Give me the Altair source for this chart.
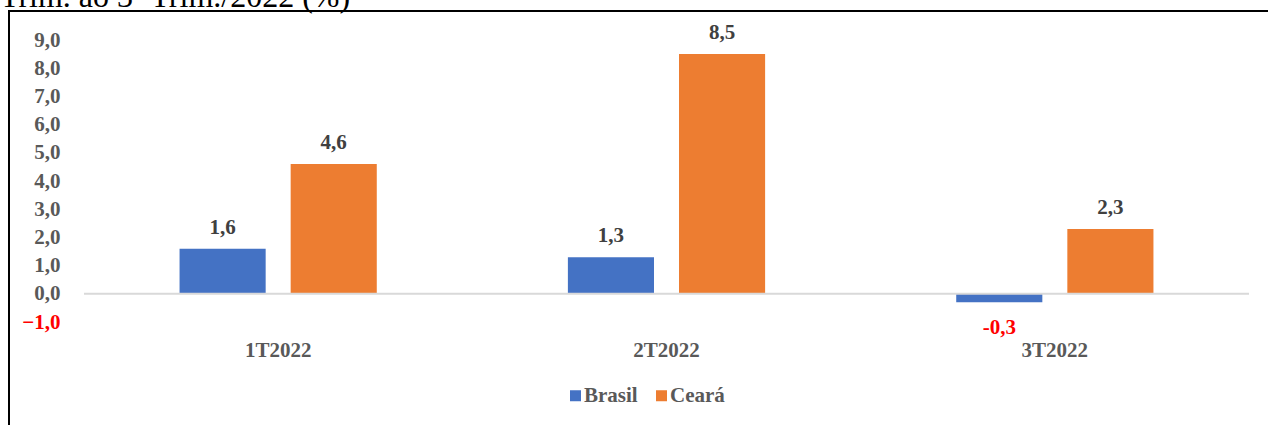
import altair as alt
import pandas as pd

# Quarterly GDP change (%), Brazil vs. Ceará
periodos = ["1T2022", "2T2022", "3T2022"]
series = ["Brasil", "Ceará"]
brasil = [1.6, 1.3, -0.3]
ceara = [4.6, 8.5, 2.3]
cores = ["#4472C4", "#ED7D31"]
titulo = "Trim. ao 3º Trim./2022 (%)"

rows = []
for p, b, c in zip(periodos, brasil, ceara):
    rows.append({"periodo": p, "serie": "Brasil", "valor": b})
    rows.append({"periodo": p, "serie": "Ceará", "valor": c})
df = pd.DataFrame(rows)
df["rotulo"] = df["valor"].map(lambda v: f"{v:.1f}".replace(".", ","))

FONT = "Liberation Serif"
FS = 21
W, H = 1165, 282
PAD = {"left": 84, "top": 40, "right": 19, "bottom": 103}

x_enc = alt.X(
    "periodo:N",
    sort=periodos,
    scale=alt.Scale(paddingInner=0, paddingOuter=0),
    axis=alt.Axis(
        title=None, domain=False, ticks=False, labelAngle=0,
        labelFont=FONT, labelFontSize=FS, labelFontWeight="bold",
        labelColor="#595959", labelPadding=17,
    ),
)
xoff_enc = alt.XOffset(
    "serie:N",
    sort=series,
    scale=alt.Scale(domain=series, paddingInner=0.225, paddingOuter=0.86),
)
y_scale = alt.Scale(domain=[-1, 9], nice=False, zero=True)
y_axis = alt.Axis(
    title=None, domain=False, ticks=False, grid=False,
    values=list(range(-1, 10)), labelOverlap=False,
    labelExpr="replace(format(datum.value, '.1f'), '.', ',')",
    labelColor=alt.ExprRef(expr="datum.value < 0 ? '#FF0000' : '#595959'"),
    labelFont=FONT, labelFontSize=FS, labelFontWeight="bold",
    labelPadding=24,
)
y_enc = alt.Y("valor:Q", scale=y_scale, axis=y_axis)

base = alt.Chart(df).encode(x=x_enc, xOffset=xoff_enc, y=y_enc)

bars = base.mark_bar().encode(
    color=alt.Color(
        "serie:N",
        sort=series,
        scale=alt.Scale(domain=series, range=cores),
        legend=alt.Legend(
            title=None, orient="none", direction="horizontal",
            legendX=481, legendY=345, padding=0,
            symbolType="square", symbolSize=121, symbolStrokeWidth=0,
            labelFont=FONT, labelFontSize=FS, labelFontWeight="bold",
            labelColor="#595959", columnPadding=13,
            labelOffset=alt.ExprRef(expr="-2"),
        ),
    )
)

pos_labels = base.transform_filter("datum.valor >= 0").mark_text(
    font=FONT, fontSize=FS, fontWeight="bold", color="#404040",
    baseline="alphabetic", dy=-15,
).encode(text="rotulo:N")

neg_labels = base.transform_filter("datum.valor < 0").mark_text(
    font=FONT, fontSize=FS, fontWeight="bold", color="#FF0000",
    baseline="alphabetic", dy=32,
).encode(text="rotulo:N")

# horizontal line at zero, sharing the same y axis definition
zero_line = alt.Chart(pd.DataFrame({"valor": [0]})).mark_rule(
    color="#D9D9D9", strokeWidth=2
).encode(y=y_enc)

one = pd.DataFrame({"k": [0]})
frame_top = alt.Chart(one).mark_rule(color="black", strokeWidth=2).encode(
    x=alt.value(-75), x2=alt.value(1200), y=alt.value(-29)
)
frame_left = alt.Chart(one).mark_rule(color="black", strokeWidth=2).encode(
    x=alt.value(-75), y=alt.value(-30), y2=alt.value(400)
)
head = alt.Chart(one).mark_text(
    text=titulo, font=FONT, fontSize=32, color="black",
    align="left", baseline="alphabetic",
).encode(x=alt.value(-84), y=alt.value(-33))

chart = (
    alt.layer(bars, zero_line, pos_labels, neg_labels, frame_top, frame_left, head)
    .properties(width=W, height=H, padding=PAD, autosize=alt.AutoSizeParams(type="none"))
    .configure(background="white")
    .configure_view(strokeWidth=0, stroke="transparent")
    .configure_axisY(labelOverlap=False)
    .configure_legend(labelFont=FONT, labelFontWeight="bold")
)

chart.save("out.html", embed_options={"renderer": "svg", "actions": False})
